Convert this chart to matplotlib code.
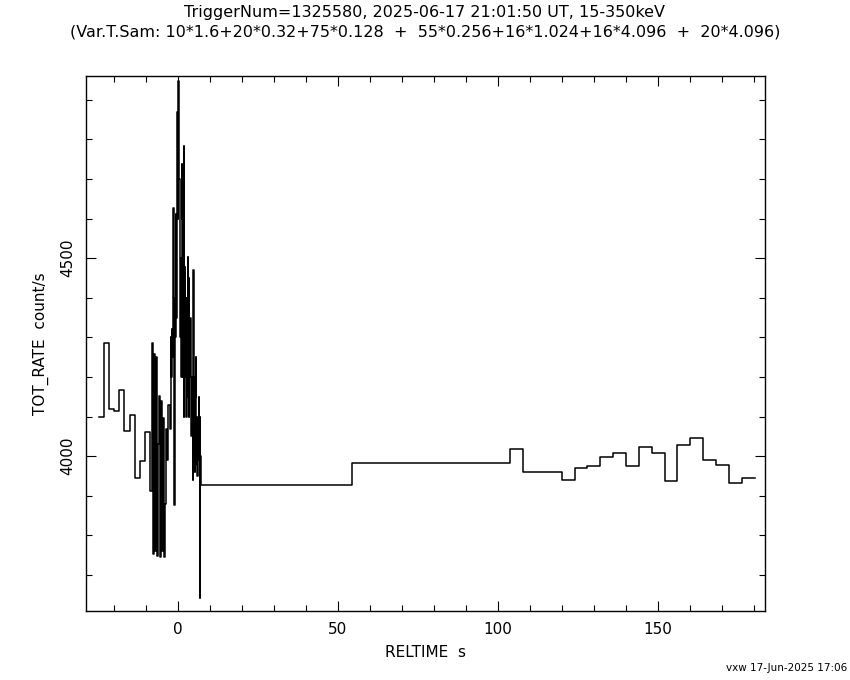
import numpy as np
import matplotlib
matplotlib.use("Agg")
import matplotlib.pyplot as plt
from matplotlib.ticker import MultipleLocator

# 1.6 s bins before the burst
coarse_start = -24.7
coarse_width = 1.6
coarse_rate = [4098, 4285, 4119, 4115, 4168, 4063, 4103, 3944, 3987, 4060]

# 0.32 s bins
mid_width = 0.32
mid_rate = [3913, 3913, 4285, 3752, 4257, 3760, 4250, 3748, 4030, 4152,
            3746, 4140, 3760, 4096, 3746, 3880, 4069, 3990, 4130, 4069]

# 0.128 s bins through the peak
fine_width = 0.128
fine_rate = [4150, 4300, 4200, 4320, 4250,
             4465, 4300,
             4627, 4200, 3876,
             4350, 4400, 4300,
             4611, 4350,
             4500, 4700,
             4869, 4600,
             4947, 4800, 4700,
             4571, 4400,
             4300, 4500, 4200,
             4737, 4350, 4600,
             4200, 4450, 4100,
             4783, 4300,
             4478, 4200, 4400, 4100, 4350, 4250, 4400,
             4503, 4150, 4450, 4099, 4300,
             4200, 4350, 4100, 4250, 4050, 4200, 4150,
             4100, 3939, 4470, 4050, 4200, 3960, 4150, 4000, 4250, 3980, 4100, 3950, 4050,
             4050, 3990, 4150, 3990, 4100, 3641, 4000, 3990]

# long bins after the burst
long_edges = [7.3, 54.5, 103.8]
long_rate = [3928, 3982]

# ~4 s bins at the tail
tail_width = 4.02
tail_rate = [4017, 3961, 3961, 3959, 3941, 3971, 3974, 3999, 4007, 3974,
             4024, 4007, 3936, 4028, 4045, 3989, 3977, 3933, 3944]

title1 = "TriggerNum=1325580, 2025-06-17 21:01:50 UT, 15-350keV"
title2 = "(Var.T.Sam: 10*1.6+20*0.32+75*0.128  +  55*0.256+16*1.024+16*4.096  +  20*4.096)"
stamp = "vxw 17-Jun-2025 17:06"

# assemble left edges and values
widths = ([coarse_width] * len(coarse_rate) + [mid_width] * len(mid_rate)
          + [fine_width] * len(fine_rate))
edges = coarse_start + np.concatenate([[0], np.cumsum(widths)])
# close burst section onto the first long bin
edges[-1] = long_edges[0]
rate = coarse_rate + mid_rate + fine_rate
edges = list(edges) + long_edges[1:]
rate = rate + long_rate
tail_edges = long_edges[-1] + tail_width * np.arange(1, len(tail_rate) + 1)
edges = np.array(edges + list(tail_edges))
rate = np.array(rate + tail_rate)

plt.rcParams["font.family"] = ["DejaVu Sans"]

fig = plt.figure(figsize=(8.5, 6.8), dpi=100)
ax = fig.add_axes([0.1012, 0.1015, 0.7988, 0.7868])

ax.step(edges, np.append(rate, rate[-1]), where="post", color="black", linewidth=1.1)

ax.set_xlim(-28.7, 183.4)
ax.set_ylim(3609, 4960)
ax.xaxis.set_major_locator(MultipleLocator(50))
ax.xaxis.set_minor_locator(MultipleLocator(10))
ax.yaxis.set_major_locator(MultipleLocator(500))
ax.yaxis.set_minor_locator(MultipleLocator(100))
ax.tick_params(which="both", direction="in", top=True, right=True, width=0.8, color="black")
ax.tick_params(which="major", length=7)
ax.tick_params(which="minor", length=4)
ax.tick_params(axis="x", labelsize=11, pad=8)
ax.tick_params(axis="y", labelsize=11, pad=8)
for lbl in ax.get_yticklabels():
    lbl.set_rotation(90)
    lbl.set_va("center")
for s in ax.spines.values():
    s.set_linewidth(1.0)

ax.set_xlabel("RELTIME  s", fontsize=11, labelpad=6)
ax.set_ylabel("TOT_RATE  count/s", fontsize=11, labelpad=8)

fig.text(0.5, 1 - 12 / 680, title1, ha="center", va="center", fontsize=11.5)
fig.text(0.5, 1 - 32 / 680, title2, ha="center", va="center", fontsize=11.5)
fig.text(0.997, 1 - 668 / 680, stamp, ha="right", va="center", fontsize=7.5)

fig.savefig("out.png", dpi=100)
